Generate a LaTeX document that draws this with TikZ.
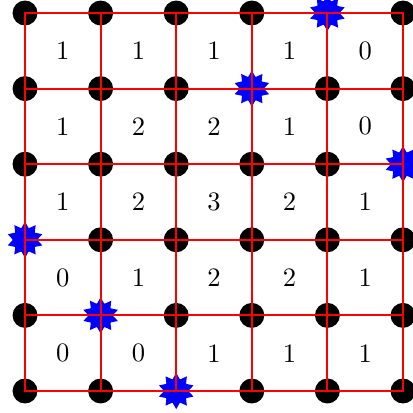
\documentclass[tikz,border=0pt]{standalone}
\usepackage{tikz}
\usetikzlibrary{shapes.geometric}
\definecolor{yildiz}{HTML}{0000FF}
\tikzset{
  nokta/.style={circle,fill=black,inner sep=0pt,minimum size=0.33cm},
  isaret/.style={star,star points=10,star point ratio=1.5,fill=yildiz,inner sep=0pt,minimum size=0.48cm},
  sayi/.style={inner sep=0pt}
}

\begin{document}
\begin{tikzpicture}
\useasboundingbox (-0.331,-0.278) rectangle (5.132,5.172);
% noktalar
\foreach \i in {0,...,5}
  \foreach \j in {0,...,5}
    \node[nokta] (p\i\j) at (\i,\j) {};
% yildizlar
\foreach \i/\j in {4/5,3/4,5/3,0/2,1/1,2/0}
  \node[isaret] (s\i\j) at (\i,\j) {};
% izgara
\draw[red,line width=0.75pt] (0,0) grid (5,5);
\draw[red,line width=1pt] (0,0) rectangle (5,5);
% sayilar
\foreach \a/\b/\c/\d/\e [count=\r from 0] in {0/0/1/1/1,0/1/2/2/1,1/2/3/2/1,1/2/2/1/0,1/1/1/1/0}{
  \node[sayi] (n0\r) at (0.5,\r+0.5) {\a};
  \node[sayi] (n1\r) at (1.5,\r+0.5) {\b};
  \node[sayi] (n2\r) at (2.5,\r+0.5) {\c};
  \node[sayi] (n3\r) at (3.5,\r+0.5) {\d};
  \node[sayi] (n4\r) at (4.5,\r+0.5) {\e};
}
\end{tikzpicture}
\end{document}
